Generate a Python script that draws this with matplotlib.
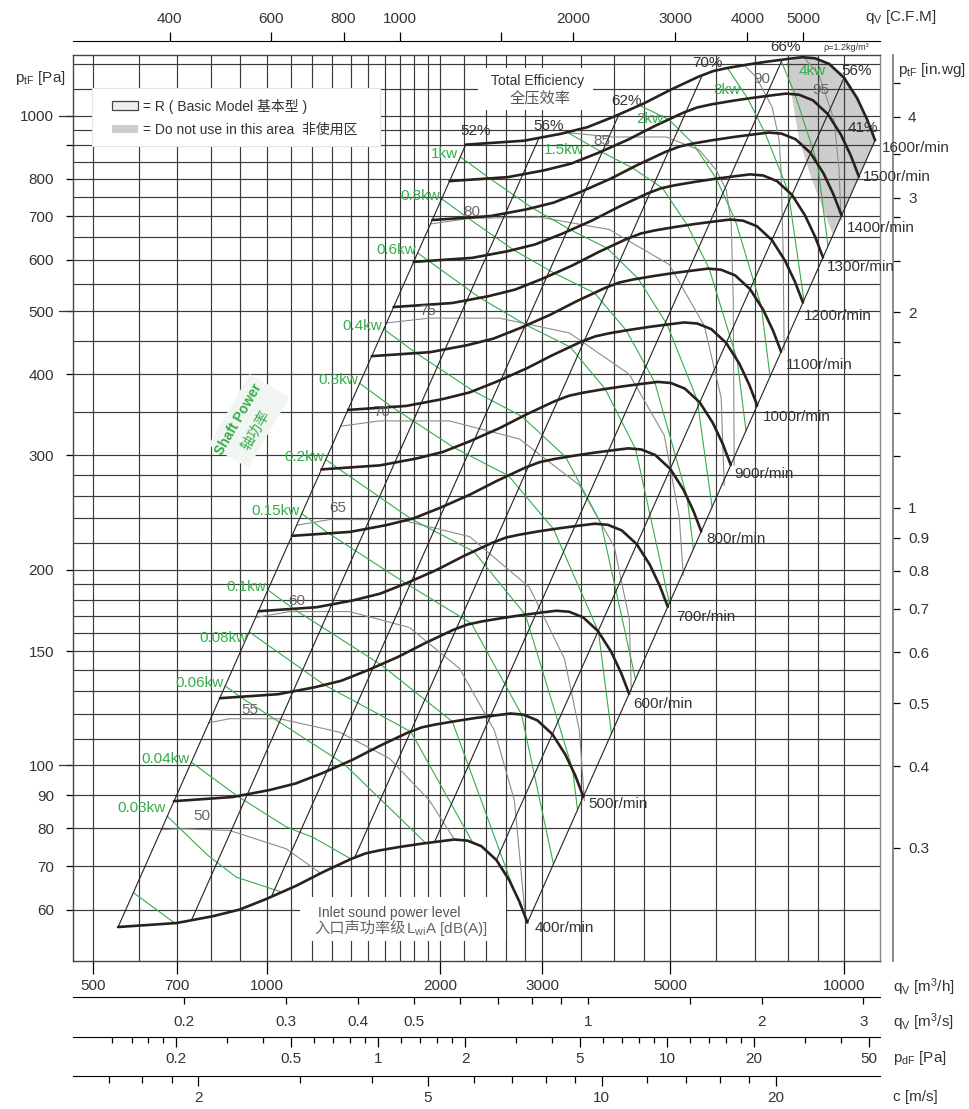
import numpy as np
import matplotlib.pyplot as plt
from matplotlib.patches import Rectangle, Polygon
from matplotlib.transforms import Affine2D
from matplotlib.ticker import NullFormatter

plt.rcParams['font.family'] = ['Liberation Sans', 'Noto Sans CJK SC', 'DejaVu Sans']
plt.rcParams['mathtext.fontset'] = 'custom'
plt.rcParams['mathtext.rm'] = 'Liberation Sans'
plt.rcParams['mathtext.it'] = 'Liberation Sans'

# ---- fan curves (q [m3/h], p [Pa]) per speed ----
speeds = [400, 500, 600, 700, 800, 900, 1000, 1100, 1200, 1300, 1400, 1500, 1600]
q_400 = [553, 698, 807, 898, 999, 1126, 1251, 1401, 1483, 1568, 1699, 1840, 1993, 2115, 2227, 2355, 2500, 2633, 2740, 2829]
p_400 = [56.4, 57.2, 58.6, 60.0, 62.3, 65.3, 68.5, 71.8, 73.2, 74.0, 74.9, 75.7, 76.4, 76.9, 76.6, 75.1, 71.5, 66.5, 61.7, 57.3]
q_500 = [691, 873, 1009, 1123, 1249, 1408, 1564, 1751, 1854, 1960, 2124, 2300, 2491, 2644, 2784, 2944, 3125, 3291, 3425, 3536]
p_500 = [88.1, 89.4, 91.6, 93.8, 97.3, 102.0, 107.0, 112.2, 114.4, 115.6, 117.0, 118.3, 119.4, 120.2, 119.7, 117.3, 111.7, 103.9, 96.4, 89.5]
q_600 = [830, 1047, 1211, 1347, 1499, 1689, 1877, 2102, 2225, 2352, 2549, 2760, 2990, 3173, 3341, 3533, 3750, 3950, 4110, 4244]
p_600 = [126.9, 128.7, 131.9, 135.0, 140.2, 146.9, 154.1, 161.6, 164.7, 166.5, 168.5, 170.3, 171.9, 173.0, 172.4, 169.0, 160.9, 149.6, 138.8, 128.9]
q_700 = [968, 1222, 1412, 1572, 1748, 1971, 2189, 2452, 2595, 2744, 2973, 3220, 3488, 3701, 3897, 4121, 4375, 4608, 4795, 4951]
p_700 = [172.7, 175.2, 179.5, 183.8, 190.8, 200.0, 209.8, 219.9, 224.2, 226.6, 229.4, 231.8, 234.0, 235.5, 234.6, 230.0, 219.0, 203.7, 189.0, 175.5]
q_800 = [1106, 1396, 1614, 1796, 1998, 2252, 2502, 2802, 2966, 3136, 3398, 3680, 3986, 4230, 4454, 4710, 5000, 5266, 5480, 5658]
p_800 = [225.6, 228.8, 234.4, 240.0, 249.2, 261.2, 274.0, 287.2, 292.8, 296.0, 299.6, 302.8, 305.6, 307.6, 306.4, 300.4, 286.0, 266.0, 246.8, 229.2]
q_900 = [1244, 1571, 1816, 2021, 2248, 2534, 2815, 3152, 3337, 3528, 3823, 4140, 4484, 4759, 5011, 5299, 5625, 5924, 6165, 6365]
p_900 = [285.5, 289.6, 296.7, 303.8, 315.4, 330.6, 346.8, 363.5, 370.6, 374.6, 379.2, 383.2, 386.8, 389.3, 387.8, 380.2, 362.0, 336.7, 312.4, 290.1]
q_1000 = [1383, 1745, 2018, 2245, 2498, 2815, 3128, 3503, 3708, 3920, 4248, 4600, 4983, 5288, 5568, 5888, 6250, 6583, 6850, 7073]
p_1000 = [352.5, 357.5, 366.3, 375.0, 389.4, 408.1, 428.1, 448.8, 457.5, 462.5, 468.1, 473.1, 477.5, 480.6, 478.8, 469.4, 446.9, 415.6, 385.6, 358.1]
q_1100 = [1521, 1920, 2219, 2470, 2747, 3097, 3440, 3853, 4078, 4312, 4672, 5060, 5481, 5816, 6124, 6476, 6875, 7241, 7535, 7780]
p_1100 = [426.5, 432.6, 443.2, 453.8, 471.1, 493.8, 518.0, 543.0, 553.6, 559.6, 566.4, 572.5, 577.8, 581.6, 579.3, 567.9, 540.7, 502.9, 466.6, 433.3]
q_1200 = [1659, 2094, 2421, 2694, 2997, 3378, 3753, 4203, 4449, 4704, 5097, 5520, 5979, 6345, 6681, 7065, 7500, 7899, 8220, 8487]
p_1200 = [507.6, 514.8, 527.4, 540.0, 560.7, 587.7, 616.5, 646.2, 658.8, 666.0, 674.1, 681.3, 687.6, 692.1, 689.4, 675.9, 643.5, 598.5, 555.3, 515.7]
q_1300 = [1797, 2269, 2623, 2919, 3247, 3660, 4066, 4553, 4820, 5096, 5522, 5980, 6477, 6874, 7238, 7654, 8125, 8557, 8905, 9194]
p_1300 = [595.7, 604.2, 619.0, 633.8, 658.0, 689.7, 723.5, 758.4, 773.2, 781.6, 791.1, 799.6, 807.0, 812.3, 809.1, 793.2, 755.2, 702.4, 651.7, 605.2]
q_1400 = [1936, 2443, 2825, 3143, 3497, 3941, 4379, 4904, 5191, 5488, 5947, 6440, 6976, 7403, 7795, 8243, 8750, 9216, 9590, 9902]
p_1400 = [690.9, 700.7, 717.9, 735.0, 763.2, 799.9, 839.1, 879.6, 896.7, 906.5, 917.5, 927.3, 935.9, 942.0, 938.4, 920.0, 875.9, 814.6, 755.8, 701.9]
q_1500 = [2074, 2618, 3026, 3368, 3746, 4223, 4691, 5254, 5561, 5880, 6371, 6900, 7474, 7931, 8351, 8831, 9375, 9874, 10275, 10609]
p_1500 = [793.1, 804.4, 824.1, 843.8, 876.1, 918.3, 963.3, 1009.7, 1029.4, 1040.6, 1053.3, 1064.5, 1074.4, 1081.4, 1077.2, 1056.1, 1005.5, 935.2, 867.7, 805.8]
q_1600 = [2212, 2792, 3228, 3592, 3996, 4504, 5004, 5604, 5932, 6272, 6796, 7360, 7972, 8460, 8908, 9420, 10000, 10532, 10960, 11316]
p_1600 = [902.4, 915.2, 937.6, 960.0, 996.8, 1044.8, 1096.0, 1148.8, 1171.2, 1184.0, 1198.4, 1211.2, 1222.4, 1230.4, 1225.6, 1201.6, 1144.0, 1064.0, 987.2, 916.8]

# ---- system lines (constant efficiency), ends on 400 and 1600 r/min ----
diag_q_lo = [553, 741, 1019, 1420, 1953, 2500, 2829]
diag_p_lo = [56.4, 57.8, 62.8, 72.1, 76.2, 71.5, 57.3]
diag_q_hi = [2212, 2964, 4076, 5680, 7812, 10000, 11316]
diag_p_hi = [902.4, 925.0, 1005.0, 1154.0, 1219.0, 1144.0, 916.8]
eff_labels = ['52%', '56%', '62%', '70%', '66%', '56%', '41%']

# ---- shaft power lines [kW] ----
g002_q = [588, 693]
g002_p = [63.7, 57.2]
g003_q = [673, 791, 886, 1064]
g003_p = [83.5, 72.7, 67.3, 63.8]
g004_q = [741, 890, 1082, 1203, 1399]
g004_p = [101.1, 89.7, 80.4, 77.5, 71.8]
g006_q = [848, 900, 1360, 1887]
g006_p = [132.5, 127.5, 100.6, 75.9]
g008_q = [933, 1259, 1777, 2276]
g008_p = [160.5, 133.0, 112.7, 76.0]
g01_q = [1005, 1114, 1577, 2097, 2674]
g01_p = [186.2, 174.1, 142.9, 116.8, 64.7]
g015_q = [1150, 1281, 1743, 2264, 2763, 3138]
g015_p = [244.1, 227.5, 190.6, 165.3, 119.8, 70.5]
g02_q = [1266, 1329, 1780, 2284, 2806, 3389, 3454]
g02_p = [295.6, 286.6, 239.5, 213.4, 170.6, 98.4, 85.4]
g03_q = [1449, 1648, 2111, 2622, 3140, 3755, 3955]
g03_p = [387.4, 356.2, 308.4, 279.3, 231.0, 160.6, 112.0]
g04_q = [1595, 1816, 2280, 2771, 3296, 3798, 4353]
g04_p = [469.3, 431.0, 377.0, 344.2, 298.2, 235.1, 135.7]
g06_q = [1826, 1908, 2342, 2819, 3355, 3857, 4354, 4983]
g06_p = [615.0, 597.7, 524.3, 475.8, 440.6, 379.6, 306.9, 177.8]
g08_q = [2010, 2228, 2676, 3154, 3697, 4195, 4701, 5348, 5484]
g08_p = [745.0, 696.5, 621.6, 571.8, 533.5, 467.2, 388.8, 258.7, 215.3]
g1_q = [2165, 2434, 2885, 3362, 3887, 4400, 4938, 5567, 5908]
g1_p = [864.5, 800.6, 721.2, 666.9, 625.3, 561.3, 477.0, 365.2, 249.9]
g15_q = [3315, 3793, 4295, 4846, 5352, 5840, 6530, 6763]
g15_p = [943.0, 880.2, 831.7, 774.0, 678.4, 581.4, 420.6, 327.5]
g2_q = [4423, 4972, 5476, 6007, 6479, 7190, 7443]
g2_p = [1037.2, 986.5, 906.1, 800.0, 691.0, 508.2, 396.7]
g3_q = [6281, 6810, 7297, 8003, 8520]
g3_p = [1184.3, 1062.6, 940.5, 765.0, 519.8]
g4_q = [7769, 8223, 8997, 9379]
g4_p = [1218.7, 1078.5, 843.4, 629.8]
kw_labels = ['', '0.03kw', '0.04kw', '0.06kw', '0.08kw', '0.1kw', '0.15kw', '0.2kw', '0.3kw',
             '0.4kw', '0.6kw', '0.8kw', '1kw', '1.5kw', '2kw', '3kw', '4kw']

# ---- inlet sound power level lines [dB(A)] ----
s50_q = [657, 707, 863, 1082, 1235]
s50_p = [79.6, 79.9, 79.4, 74.4, 68.4]
s55_q = [794, 863, 1053, 1338, 1632, 1914, 2115]
s55_p = [116.3, 118.0, 118.0, 112.5, 102.5, 88.3, 76.9]
s60_q = [957, 1096, 1392, 1768, 2158, 2480, 2686, 2806]
s60_p = [168.9, 172.5, 172.5, 163.0, 141.0, 113.2, 88.3, 58.4]
s65_q = [1127, 1285, 1699, 2246, 2851, 3279, 3480, 3550]
s65_p = [234.2, 239.0, 239.0, 225.0, 188.0, 146.0, 113.2, 88.3]
s70_q = [1343, 1568, 2073, 2740, 3480, 4000, 4246, 4280]
s70_p = [332.7, 339.0, 339.0, 318.0, 270.0, 217.0, 168.0, 130.5]
s75_q = [1613, 1914, 2530, 3345, 4246, 4883, 5183, 5266]
s75_p = [479.8, 488.0, 488.0, 463.0, 400.0, 322.0, 241.0, 196.2]
s80_q = [1922, 2246, 2968, 3921, 4980, 5727, 6126, 6200]
s80_p = [681.3, 695.0, 698.0, 668.0, 590.0, 475.0, 368.0, 269.9]
s85_q = [3303, 3969, 4921, 5613, 6005, 6250, 6376, 6427, 6452]
s85_p = [942.0, 927.3, 927.3, 885.5, 824.9, 768.4, 683.5, 520.3, 289.7]
s90_q = [6714, 7043, 7506, 7718, 7780, 7842, 7873]
s90_p = [1196.0, 1147.0, 1031.0, 917.5, 816.2, 621.2, 435.7]
s95_q = [8527, 9051, 9610, 9803, 9881]
s95_p = [1229.0, 1155.0, 984.9, 824.9, 690.9]
db_labels = ['50', '55', '60', '65', '70', '75', '80', '85', '90', '95']

# ---- "do not use" area ----
shade_q = [7940, 8460, 9160, 9920, 10616, 11316, 9570, 8800, 8360]
shade_p = [1210, 1230.4, 1217.6, 1163.2, 1064.0, 916.8, 655, 796, 918]

# ---- axis ticks ----
x_grid = [500, 600, 700, 800, 900, 1000, 1100, 1200, 1300, 1400, 1500, 1600, 1700, 1800,
          1900, 2000, 2200, 2400, 2600, 2800, 3000, 3500, 4000, 4500, 5000, 6000, 7000,
          8000, 9000, 10000]
y_grid = [60, 70, 80, 90, 100, 110, 120, 130, 140, 150, 160, 170, 180, 190, 200, 220, 240,
          260, 280, 300, 350, 400, 450, 500, 550, 600, 650, 700, 750, 800, 850, 900, 950,
          1000, 1100, 1200]
qh_ticks = [500, 700, 1000, 2000, 3000, 5000, 10000]
pa_ticks = [60, 70, 80, 90, 100, 150, 200, 300, 400, 500, 600, 700, 800, 900, 1000]
pa_labels = ['60', '70', '80', '90', '100', '150', '200', '300', '400', '500', '600', '700',
             '800', '', '1000']
cfm_ticks = [400, 600, 800, 1000, 2000, 3000, 4000, 5000]
cfm_minor = [1500]
inwg_ticks = [0.3, 0.4, 0.5, 0.6, 0.7, 0.8, 0.9, 1, 2, 3, 4]
inwg_minor = [1.2, 1.4, 1.6, 1.8, 2.4, 2.8, 3.5, 4.5]
qs_ticks = [0.2, 0.3, 0.4, 0.5, 1, 2, 3]
qs_minor = [0.6, 0.7, 0.8, 0.9, 1.5]
pd_ticks = [0.2, 0.5, 1, 2, 5, 10, 20, 50]
pd_minor = [0.12, 0.14, 0.16, 0.18, 0.3, 0.4, 0.6, 0.7, 0.8, 0.9, 1.2, 1.4, 1.6, 1.8, 3, 4,
            6, 7, 8, 9, 12, 14, 16, 18, 30, 40]
c_ticks = [2, 5, 10, 20]
c_minor = [1.4, 1.6, 1.8, 3, 4, 6, 7, 8, 9, 12, 14, 16, 18]

W, H = 970, 1109
L, R, T, B = 73, 880, 55, 961
DARK = '#2a201d'
TXT = '#333333'
GREEN = '#35ad4b'
GRAY = '#8c8c8c'
PT = 0.72  # points per pixel at 100 dpi

fig = plt.figure(figsize=(W / 100, H / 100), dpi=100)
ax = fig.add_axes([L / W, 1 - B / H, (R - L) / W, (B - T) / H])
ax.set_xscale('log')
ax.set_yscale('log')
ax.set_xlim(462, 11540)
ax.set_ylim(50, 1240)
ax.set_axisbelow(True)

ax.set_xticks(qh_ticks, labels=[str(v) for v in qh_ticks])
ax.set_xticks(x_grid, minor=True)
ax.set_yticks(pa_ticks, labels=pa_labels)
ax.set_yticks(y_grid, minor=True)
ax.xaxis.set_minor_formatter(NullFormatter())
ax.yaxis.set_minor_formatter(NullFormatter())
ax.grid(True, which='both', color='#3a3a3a', lw=0.85)
ax.tick_params(which='minor', length=0)
ax.tick_params(axis='x', which='major', length=13 * PT, width=0.9, pad=4.6 * PT,
               labelsize=11, labelcolor=TXT)
ax.tick_params(axis='y', which='major', length=7 * PT, width=0.9, pad=12 * PT,
               labelsize=11, labelcolor=TXT)
for s in ax.spines.values():
    s.set_linewidth(1.0)
    s.set_color('#444')
ax.spines['right'].set_color('#888')
for v in [100, 500, 1000]:
    ax.plot([-14 / (R - L), 0], [v, v], transform=ax.get_yaxis_transform(),
            clip_on=False, color='#333', lw=0.9)

# secondary scales
top = ax.secondary_xaxis(1 + 14 / (B - T), functions=(lambda q: q / 1.699, lambda c: c * 1.699))
top.set_ticks(cfm_ticks, labels=[str(v) for v in cfm_ticks])
top.set_ticks(cfm_minor, minor=True)
top.xaxis.set_minor_formatter(NullFormatter())
top.tick_params(which='both', length=9 * PT, width=0.9, pad=5.6 * PT, labelsize=11,
                labelcolor=TXT)

rax = ax.secondary_yaxis(1 + 13 / (R - L), functions=(lambda p: p / 249.09, lambda w: w * 249.09))
rax.set_ticks(inwg_ticks, labels=[('%g' % v) for v in inwg_ticks])
rax.set_ticks(inwg_minor, minor=True)
rax.yaxis.set_minor_formatter(NullFormatter())
rax.tick_params(which='both', length=7 * PT, width=0.9, pad=8 * PT, labelsize=11,
                labelcolor=TXT)
rax.spines['right'].set_color('#888')
rax.spines['right'].set_linewidth(1.4)

s1 = ax.secondary_xaxis(-36 / (B - T), functions=(lambda q: q / 3600, lambda s: s * 3600))
s1.set_ticks(qs_ticks, labels=[('%g' % v) for v in qs_ticks])
s1.set_ticks(qs_minor, minor=True)
s1.xaxis.set_minor_formatter(NullFormatter())
s1.tick_params(which='both', length=7 * PT, width=0.9, pad=10.6 * PT, labelsize=11,
               labelcolor=TXT)

s2 = ax.secondary_xaxis(-75.7 / (B - T),
                        functions=(lambda q: (np.abs(q) / 1560.0) ** 2,
                                   lambda d: 1560.0 * np.sqrt(np.abs(d))))
s2.set_ticks(pd_ticks, labels=[('%g' % v) for v in pd_ticks])
s2.set_ticks(pd_minor, minor=True)
s2.xaxis.set_minor_formatter(NullFormatter())
s2.tick_params(which='major', length=10 * PT, width=0.9, pad=4.9 * PT, labelsize=11,
               labelcolor=TXT)
s2.tick_params(which='minor', length=6 * PT, width=0.9)

s3 = ax.secondary_xaxis(-115 / (B - T), functions=(lambda q: q / 380.5, lambda c: c * 380.5))
s3.set_ticks(c_ticks, labels=[('%g' % v) for v in c_ticks])
s3.set_ticks(c_minor, minor=True)
s3.xaxis.set_minor_formatter(NullFormatter())
s3.tick_params(which='major', length=10 * PT, width=0.9, pad=4.6 * PT, labelsize=11,
               labelcolor=TXT)
s3.tick_params(which='minor', length=7 * PT, width=0.9)

# shaded area
ax.add_patch(Polygon(list(zip(shade_q, shade_p)), closed=True, facecolor='#cdcdcd',
                     edgecolor='none', zorder=0.3))

# sound power lines
snd = [(s50_q, s50_p), (s55_q, s55_p), (s60_q, s60_p), (s65_q, s65_p), (s70_q, s70_p),
       (s75_q, s75_p), (s80_q, s80_p), (s85_q, s85_p), (s90_q, s90_p), (s95_q, s95_p)]
db_off = [(41, 14), (41, 13), (41, 17), (41, 17), (41, 14), (41, 12), (41, 12), (36, -8),
          (18, -14), (17, -32)]
for (q, p), lab, off in zip(snd, db_labels, db_off):
    ax.plot(q, p, color=GRAY, lw=0.8, zorder=2)
    ax.annotate(lab, (q[0], p[0]), xytext=off, textcoords='offset pixels', ha='center',
                va='center', fontsize=11, color='#666', zorder=6)

# shaft power lines
pw = [(g002_q, g002_p), (g003_q, g003_p), (g004_q, g004_p), (g006_q, g006_p),
      (g008_q, g008_p), (g01_q, g01_p), (g015_q, g015_p), (g02_q, g02_p), (g03_q, g03_p),
      (g04_q, g04_p), (g06_q, g06_p), (g08_q, g08_p), (g1_q, g1_p), (g15_q, g15_p),
      (g2_q, g2_p), (g3_q, g3_p), (g4_q, g4_p)]
kw_dy = {'0.03kw': 8, '0.08kw': -6}
kw_off = {'1.5kw': (-3, -18), '2kw': (10, -14), '3kw': (0, -22), '4kw': (31, -11)}
for i, ((q, p), lab) in enumerate(zip(pw, kw_labels)):
    ax.plot(q, p, color=GREEN, lw=0.8, zorder=2.5)
    if not lab:
        continue
    if lab in kw_off:
        ax.annotate(lab, (q[0], p[0]), xytext=kw_off[lab], textcoords='offset pixels',
                    ha='center', va='center', fontsize=11, color=GREEN, zorder=6)
    else:
        ax.annotate(lab, (q[0], p[0]), xytext=(-2, kw_dy.get(lab, 3)),
                    textcoords='offset pixels', ha='right', va='center', fontsize=11,
                    color=GREEN, zorder=6)

# system lines
for ql, pl, qh, ph in zip(diag_q_lo, diag_p_lo, diag_q_hi, diag_p_hi):
    ax.plot([ql, qh], [pl, ph], color='#222', lw=0.8, zorder=3)

eff_off = [(10, 14), (9, 12), (7, 13), (5, 12), (3, 13), (13, 7), (-12, 12)]
for qh, ph, lab, off in zip(diag_q_hi, diag_p_hi, eff_labels, eff_off):
    ax.annotate(lab, (qh, ph), xytext=off, textcoords='offset pixels', ha='center',
                va='center', fontsize=11, color=TXT, zorder=6)

# speed curves
curves = [(q_400, p_400), (q_500, p_500), (q_600, p_600), (q_700, p_700), (q_800, p_800),
          (q_900, p_900), (q_1000, p_1000), (q_1100, p_1100), (q_1200, p_1200),
          (q_1300, p_1300), (q_1400, p_1400), (q_1500, p_1500), (q_1600, p_1600)]
spd_off = [(7, -5), (5, -7), (4, -10), (8, -10), (5, -8), (3, -9), (6, -12), (5, -13),
           (1, -13), (4, -10), (5, -12), (4, 0), (7, -8)]
for n, (q, p), off in zip(speeds, curves, spd_off):
    ax.plot(q, p, color=DARK, lw=1.9, solid_joinstyle='round', solid_capstyle='round',
            zorder=5)
    ax.annotate('%dr/min' % n, (q[-1], p[-1]), xytext=off, textcoords='offset pixels',
                ha='left', va='center', fontsize=11, color=TXT, zorder=6,
                annotation_clip=False)

# ---- boxes and texts (pixel positions) ----
pix = Affine2D().scale(1 / 100) + fig.dpi_scale_trans


def box(x0, y0, x1, y1, fc='white', ec='none', lw=0.8, z=10):
    fig.add_artist(Rectangle((x0, H - y1), x1 - x0, y1 - y0, transform=pix, facecolor=fc,
                             edgecolor=ec, lw=lw, zorder=z))


def ftext(x, y, s, **kw):
    fig.text(x / W, 1 - y / H, s, **kw)


box(92, 88, 380, 146, ec='#e4e4e4')
box(112, 101, 138, 110, fc='#eeeeee', ec='#444', lw=0.9, z=11)
box(112, 125, 138, 133, fc='#cccccc', z=11)
ftext(143, 106, '= R ( Basic Model 基本型 )', fontsize=10, color=TXT, va='center', zorder=12)
ftext(143, 130, '= Do not use in this area  非使用区', fontsize=10, color=TXT, va='center',
      zorder=12)

box(478, 68, 593, 110)
ftext(538, 81, 'Total Efficiency', fontsize=10, color=TXT, ha='center', va='center', zorder=12)
ftext(540, 99, '全压效率', fontsize=11, color='#555', ha='center', va='center', zorder=12)

box(300, 897, 506, 941)
ftext(389, 913, 'Inlet sound power level', fontsize=10, color='#555', ha='center',
      va='center', zorder=12)
ftext(406, 929, '入口声功率级', fontsize=11, color='#666', ha='right', va='center', zorder=12)
ftext(406, 929, 'L$_{\\rm wi}$A [dB(A)]', fontsize=11, color='#666', ha='left', va='center',
      zorder=12)

fig.add_artist(Rectangle((249 - 41, H - 421 - 23), 82, 46, angle=60, rotation_point='center',
                         transform=pix, facecolor='#f1f6f2', edgecolor='none', zorder=10))
ftext(239, 419, 'Shaft Power', fontsize=10, color=GREEN, rotation=60, ha='center',
      va='center', rotation_mode='anchor', zorder=12, fontweight='bold')
ftext(256, 430, '轴功率', fontsize=10.5, color=GREEN, rotation=60, ha='center', va='center',
      rotation_mode='anchor', zorder=12)

ftext(823, 47, 'ρ=1.2kg/m³', fontsize=6.5, color=TXT, va='center')

# axis names
ftext(865, 17, 'q$_{\\rm V}$ [C.F.M]', fontsize=11, color=TXT, va='center')
ftext(898, 70, 'p$_{\\rm tF}$ [in.wg]', fontsize=11, color=TXT, va='center')
ftext(15, 78, 'p$_{\\rm tF}$ [Pa]', fontsize=11, color=TXT, va='center')
ftext(893, 987, 'q$_{\\rm V}$ [m$^3$/h]', fontsize=11, color=TXT, va='center')
ftext(893, 1022, 'q$_{\\rm V}$ [m$^3$/s]', fontsize=11, color=TXT, va='center')
ftext(893, 1058, 'p$_{\\rm dF}$ [Pa]', fontsize=11, color=TXT, va='center')
ftext(893, 1097, 'c [m/s]', fontsize=11, color=TXT, va='center')

fig.savefig('out.png', dpi=100)
